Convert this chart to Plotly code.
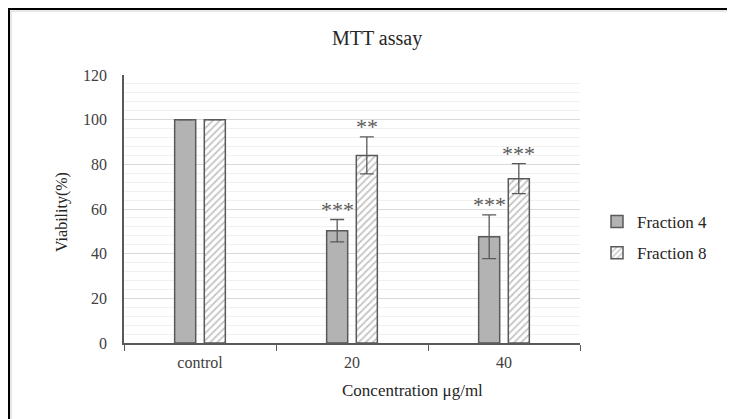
import plotly.graph_objects as go

categories = ["control", "20", "40"]
fraction4 = [100, 50.3, 47.6]
fraction4_err = [0, 5.0, 9.8]
fraction8 = [100, 84.0, 73.6]
fraction8_err = [0, 8.3, 6.7]
stars4 = ["", "***", "***"]
stars8 = ["", "**", "***"]
y_ticks = [0, 20, 40, 60, 80, 100, 120]

OFF = 8  # page body margin
W, H = 735 - OFF, 419 - OFF
L, R, T, B = 124 - OFF, 580 - OFF, 75 - OFF, 343 - OFF

def px(x):
    return (x - OFF - L) / (R - L)

def py(y):
    return (B - (y - OFF)) / (B - T)

FONT = "Liberation Serif"
DARK = "#595959"

fig = go.Figure()
fig.add_trace(go.Bar(
    name="Fraction 4", x=categories, y=fraction4,
    marker=dict(color="#b3b3b3", line=dict(color=DARK, width=1.5)),
    error_y=dict(type="data", array=fraction4_err, color=DARK, thickness=1.3, width=7),
    legendgroup="a",
))
fig.add_trace(go.Bar(
    name="Fraction 8", x=categories, y=fraction8,
    marker=dict(color="white", line=dict(color=DARK, width=1.5),
                pattern=dict(shape="/", fgcolor="#8c8c8c", bgcolor="white", size=5, solidity=0.35)),
    error_y=dict(type="data", array=fraction8_err, color=DARK, thickness=1.3, width=7),
    legendgroup="b",
))

annotations = []
offs = [-0.097, 0.097]
for i, c in enumerate(categories):
    for s, vals, errs, off in [(stars4, fraction4, fraction4_err, offs[0]), (stars8, fraction8, fraction8_err, offs[1])]:
        if s[i]:
            annotations.append(dict(
                x=i + off, y=vals[i] + errs[i], xref="x", yref="y",
                text=s[i], showarrow=False, yanchor="bottom", yshift=-4,
                font=dict(family=FONT, size=22, color=DARK),
            ))

annotations.append(dict(x=px(377), y=py(38), xref="paper", yref="paper", text="MTT assay",
                        xanchor="center", yanchor="middle",
                        showarrow=False, font=dict(family=FONT, size=20, color="#262626")))
annotations.append(dict(x=px(412), y=py(390), xref="paper", yref="paper", text="Concentration μg/ml",
                        xanchor="center", yanchor="middle",
                        showarrow=False, font=dict(family=FONT, size=17, color="#262626")))
annotations.append(dict(x=px(62), y=py(212), xref="paper", yref="paper", text="Viability(%)",
                        xanchor="center", yanchor="middle",
                        showarrow=False, textangle=-90, font=dict(family=FONT, size=16, color="#262626")))

shapes = [
    dict(type="rect", xref="paper", yref="paper", x0=px(11), x1=px(800), y0=py(11), y1=py(500),
         line=dict(color="#d0d0d0", width=1), fillcolor="rgba(0,0,0,0)", layer="above"),
    dict(type="rect", xref="paper", yref="paper", x0=px(8.5), x1=px(800), y0=py(8.5), y1=py(500),
         line=dict(color="black", width=3), fillcolor="rgba(0,0,0,0)", layer="above"),
]

fig.update_layout(
    width=W, height=H,
    margin=dict(l=L, r=W - R, t=T, b=H - B, pad=0),
    paper_bgcolor="white", plot_bgcolor="white",
    barmode="group", bargap=0.61, bargroupgap=0.29,
    font=dict(family=FONT, size=15, color="#404040"),
    showlegend=True,
    legend=dict(x=px(597), y=py(204), xanchor="left", yanchor="top",
                font=dict(family="Liberation Serif, serif", size=17, color="#262626"),
                tracegroupgap=6, bgcolor="rgba(0,0,0,0)", itemwidth=30),
    annotations=annotations,
    shapes=shapes,
    xaxis=dict(showline=True, linecolor=DARK, linewidth=1.5, ticks="outside", tickson="boundaries",
               ticklen=6, tickcolor=DARK, tickwidth=1.3, showgrid=False, ticklabelstandoff=4,
               tickfont=dict(family=FONT, size=16, color="#404040"), range=[-0.5, 2.5]),
    yaxis=dict(range=[0, 120], tickvals=y_ticks, showline=True, linecolor=DARK, linewidth=1.5,
               gridcolor="#d9d9d9", gridwidth=1, ticks="", ticklabelstandoff=12,
               minor=dict(dtick=4, showgrid=True, gridcolor="#f0f0f0", gridwidth=1),
               zeroline=False, tickfont=dict(family=FONT, size=16, color="#404040")),
)

fig.write_html("out.html")
